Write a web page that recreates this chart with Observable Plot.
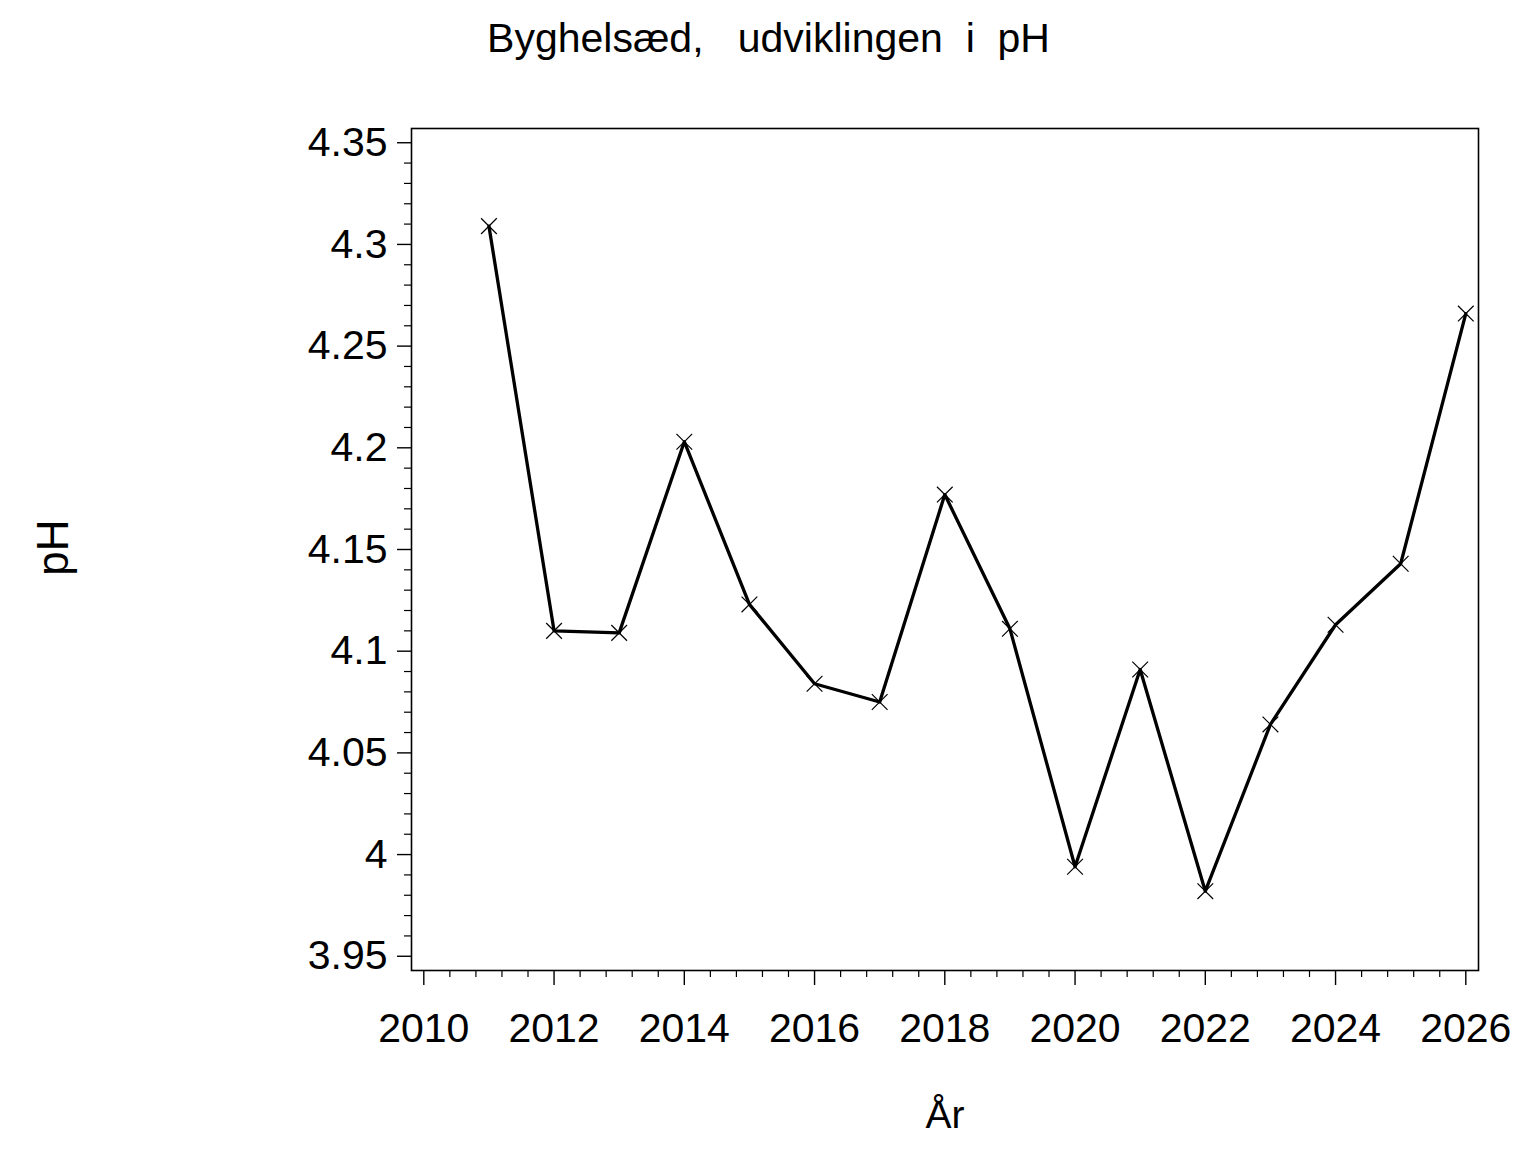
<!DOCTYPE html>
<html>
<head>
<meta charset="utf-8">
<script src="https://cdn.jsdelivr.net/npm/d3@7"></script>
<script src="https://cdn.jsdelivr.net/npm/@observablehq/plot@0.6"></script>
<style>
  body { margin: 0; background: #fff; }
  svg text { white-space: pre; }
</style>
</head>
<body>
<div id="chart"></div>
<script>
const titleText = "Byghelsæd,   udviklingen  i  pH";
const xLabel = "År";
const yLabel = "pH";

const years = [2011, 2012, 2013, 2014, 2015, 2016, 2017, 2018, 2019, 2020, 2021, 2022, 2023, 2024, 2025, 2026];
const phValues = [4.309, 4.110, 4.109, 4.203, 4.123, 4.084, 4.075, 4.177, 4.111, 3.994, 4.091, 3.982, 4.064, 4.113, 4.143, 4.266];

const xTicks = [2010, 2012, 2014, 2016, 2018, 2020, 2022, 2024, 2026];
const xTickLabels = ["2010", "2012", "2014", "2016", "2018", "2020", "2022", "2024", "2026"];
const yTicks = [3.95, 4.0, 4.05, 4.1, 4.15, 4.2, 4.25, 4.3, 4.35];
const yTickLabels = ["3.95", "4", "4.05", "4.1", "4.15", "4.2", "4.25", "4.3", "4.35"];

// minor ticks: 4 between each major
const xMinor = d3.range(0, 41).filter(i => i % 5 !== 0).map(i => 2010 + i * 0.4);
const yMinor = d3.range(0, 41).filter(i => i % 5 !== 0).map(i => 3.95 + i * 0.01);

const data = years.map((year, i) => ({year, ph: phValues[i]}));

const W = 1536, H = 1152;
const mL = 411, mR = 58, mT = 128, mB = 182;

const chart = Plot.plot({
  width: W,
  height: H,
  marginLeft: mL,
  marginRight: mR,
  marginTop: mT,
  marginBottom: mB,
  style: {fontFamily: "'Liberation Sans', Arial, sans-serif", background: "#fff", color: "#000"},
  x: {domain: [2009.811, 2026.195], axis: null},
  y: {domain: [3.943, 4.357], axis: null},
  marks: [
    Plot.frame({stroke: "#000", strokeWidth: 1.6}),
    Plot.axisY(yTicks, {
      anchor: "left", tickSize: 14, tickPadding: 10, fontSize: 41,
      stroke: "#000", strokeWidth: 1.4, fill: "#000",
      tickFormat: d => yTickLabels[yTicks.indexOf(d)], label: null
    }),
    Plot.axisY(yMinor, {anchor: "left", tickSize: 7, text: null, stroke: "#000", strokeWidth: 1.2, label: null}),
    Plot.axisX(xTicks, {
      anchor: "bottom", tickSize: 15, tickPadding: 27, fontSize: 41,
      stroke: "#000", strokeWidth: 1.4, fill: "#000",
      tickFormat: d => xTickLabels[xTicks.indexOf(d)], label: null
    }),
    Plot.axisX(xMinor, {anchor: "bottom", tickSize: 7, text: null, stroke: "#000", strokeWidth: 1.2, label: null}),
    Plot.line(data, {x: "year", y: "ph", stroke: "#000", strokeWidth: 3.3}),
    Plot.dot(data, {x: "year", y: "ph", symbol: "times", r: 7.2, stroke: "#000", strokeWidth: 1.2}),
    Plot.text([titleText], {
      text: d => d, frameAnchor: "top", dx: 768 - (mL + (W - mL - mR) / 2), dy: 51 - mT,
      lineAnchor: "bottom", textAnchor: "middle", fontSize: 41, fill: "#000"
    }),
    Plot.text([xLabel], {
      text: d => d, frameAnchor: "bottom", dx: 0, dy: 1127 - (H - mB),
      lineAnchor: "bottom", textAnchor: "middle", fontSize: 39, fill: "#000"
    }),
    Plot.text([yLabel], {
      text: d => d, frameAnchor: "left", dx: 67 - mL, dy: -2, rotate: -90,
      lineAnchor: "bottom", textAnchor: "middle", fontSize: 44, fill: "#000"
    })
  ]
});
document.getElementById("chart").appendChild(chart);
</script>
</body>
</html>
